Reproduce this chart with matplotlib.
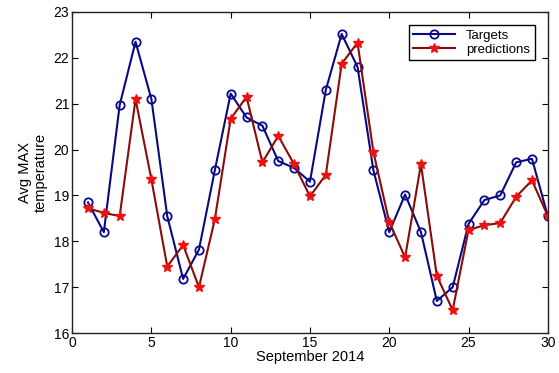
import matplotlib
matplotlib.use("Agg")
import matplotlib.pyplot as plt

# 9月の日付
days = list(range(1, 31))

# 実測値 (Targets)
targets = [18.85, 18.2, 20.97, 22.35, 21.1, 18.55, 17.18, 17.82, 19.55, 21.22,
           20.7, 20.52, 19.75, 19.6, 19.3, 21.3, 22.52, 21.8, 19.55, 18.2,
           19.02, 18.2, 16.7, 17.0, 18.38, 18.9, 19.0, 19.72, 19.8, 18.55]

# 予測値 (predictions)
predictions = [18.72, 18.62, 18.55, 21.1, 19.35, 17.45, 17.92, 17.0, 18.48, 20.67,
               21.15, 19.72, 20.3, 19.68, 18.98, 19.45, 21.87, 22.33, 19.95, 18.42,
               17.65, 19.68, 17.25, 16.5, 18.25, 18.35, 18.4, 18.97, 19.33, 18.55]

xticks = [0, 5, 10, 15, 20, 25, 30]
yticks = [16, 17, 18, 19, 20, 21, 22, 23]

plt.rcParams["font.family"] = ["Liberation Sans", "DejaVu Sans"]
plt.rcParams["font.size"] = 10

fig = plt.figure(figsize=(5.59, 3.73), dpi=100)
ax = fig.add_axes([0.129, 0.107, 0.851, 0.861])

ax.plot(days, targets, "-o", color="#0a0a80", markerfacecolor="none",
        markeredgecolor="#0a0a90", markersize=6, markeredgewidth=1.3,
        linewidth=1.5, label="Targets")
ax.plot(days, predictions, "-*", color="#8b0a0a", markerfacecolor="#ee1111",
        markeredgecolor="#ee1111", markersize=7.5, linewidth=1.5,
        label="predictions")

ax.set_xlim(0, 30)
ax.set_ylim(16, 23)
ax.set_xticks(xticks)
ax.set_yticks(yticks)
ax.tick_params(direction="in", top=True, right=True, length=4, width=0.8, pad=2)
for sp in ax.spines.values():
    sp.set_linewidth(1.0)
    sp.set_color("#222222")

ax.set_xlabel("September 2014", fontsize=10.5, labelpad=0)
ax.set_ylabel("Avg MAX\ntemperature", fontsize=10.5, labelpad=4)

leg = ax.legend(loc="upper right", fancybox=False, edgecolor="black",
                framealpha=1, fontsize=9.5, handlelength=3.2,
                borderaxespad=1.0, labelspacing=0.1, borderpad=0.35)
leg.get_frame().set_linewidth(1.0)

fig.savefig("out.png", dpi=100)
